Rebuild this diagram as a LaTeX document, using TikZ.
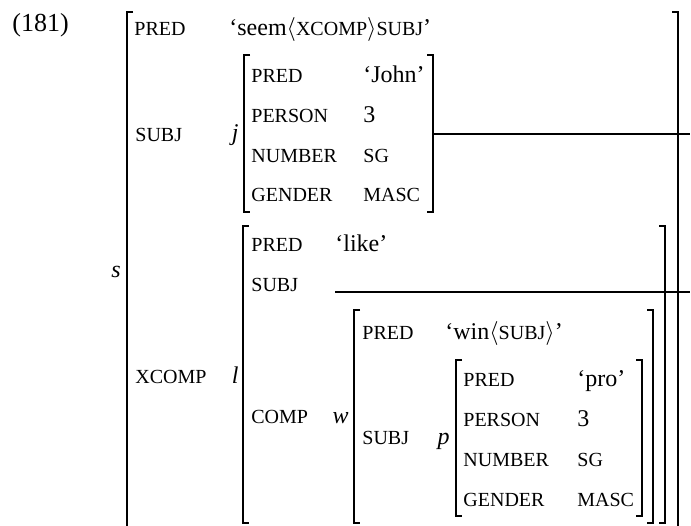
\documentclass[tikz,border=0pt,12pt]{standalone}
\usepackage{fontspec}
\setmainfont{Liberation Serif}
\usepackage{tikz}

\newcommand{\attrsize}{\fontsize{10}{12}\selectfont}
\newcommand{\feat}[1]{{\attrsize #1}}

\begin{document}
\begin{tikzpicture}[
    x=0.5pt, y=-0.5pt,
    attr/.style={anchor=base west, inner sep=0pt, font=\attrsize},
    val/.style={anchor=base west, inner sep=0pt},
    tag/.style={anchor=base east, inner sep=0pt, font=\itshape},
    brk/.style={line width=0.85pt},
    link/.style={line width=0.6pt}
]
    \useasboundingbox (0,0) rectangle (691,525);
    \clip (0,0) rectangle (691,525);

    \node[val, font=\fontsize{13}{15}\selectfont] (ex) at (12,31) {(181)};

    % s
    \begin{scope}
        \draw[brk] (133,12) -- (127,12) -- (127,540);
        \draw[brk] (672,12) -- (678,12) -- (678,540);
        \node[tag] (s) at (121,277) {s};
        \node[attr] (sPred) at (134,35) {PRED};
        \node[val] (sPredV) at (229,35) {`seem$\langle$\feat{XCOMP}$\rangle$\feat{SUBJ}'};
        \node[attr] (sSubj) at (135,141) {SUBJ};
        \node[attr] (sXcomp) at (135,383) {XCOMP};
    \end{scope}

    % j
    \begin{scope}
        \draw[brk] (250,55) -- (244,55) -- (244,212) -- (250,212);
        \draw[brk] (427,55) -- (433,55) -- (433,212) -- (427,212);
        \node[tag] (j) at (239,140) {j};
        \node[attr] (jPred) at (251,82) {PRED};
        \node[val] (jPredV) at (363,82) {`John'};
        \node[attr] (jPers) at (251,122) {PERSON};
        \node[val] (jPersV) at (363,122) {3};
        \node[attr] (jNum) at (251,162) {NUMBER};
        \node[attr] (jNumV) at (363,162) {SG};
        \node[attr] (jGend) at (251,201) {GENDER};
        \node[attr] (jGendV) at (363,201) {MASC};
        \coordinate (jR) at (433,134);
        \coordinate (jOut) at (690,134);
        \draw[link] (jR) -- (jOut);
    \end{scope}

    % l
    \begin{scope}
        \draw[brk] (249,226) -- (243,226) -- (243,523) -- (249,523);
        \draw[brk] (659,226) -- (665,226) -- (665,523) -- (659,523);
        \node[tag] (l) at (239,383) {l};
        \node[attr] (lPred) at (251,251) {PRED};
        \node[val] (lPredV) at (335,251) {`like'};
        \node[attr] (lSubj) at (251,291) {SUBJ};
        \node[attr] (lComp) at (251,423) {COMP};
        \coordinate (lSubjV) at (335,292);
        \coordinate (lOut) at (690,292);
        \draw[link] (lSubjV) -- (lOut);
    \end{scope}

    % w
    \begin{scope}
        \draw[brk] (360,310) -- (354,310) -- (354,523) -- (360,523);
        \draw[brk] (647,310) -- (653,310) -- (653,523) -- (647,523);
        \node[tag] (w) at (349,423) {w};
        \node[attr] (wPred) at (362,339) {PRED};
        \node[val] (wPredV) at (445,339) {`win$\langle$\feat{SUBJ}$\rangle$'};
        \node[attr] (wSubj) at (362,444) {SUBJ};
    \end{scope}

    % p
    \begin{scope}
        \draw[brk] (462,360) -- (456,360) -- (456,516) -- (462,516);
        \draw[brk] (636,360) -- (642,360) -- (642,516) -- (636,516);
        \node[tag] (p) at (450,444) {p};
        \node[attr] (pPred) at (463,386) {PRED};
        \node[val] (pPredV) at (577,386) {`pro'};
        \node[attr] (pPers) at (463,426) {PERSON};
        \node[val] (pPersV) at (577,426) {3};
        \node[attr] (pNum) at (463,466) {NUMBER};
        \node[attr] (pNumV) at (577,466) {SG};
        \node[attr] (pGend) at (463,506) {GENDER};
        \node[attr] (pGendV) at (577,506) {MASC};
    \end{scope}
\end{tikzpicture}
\end{document}
